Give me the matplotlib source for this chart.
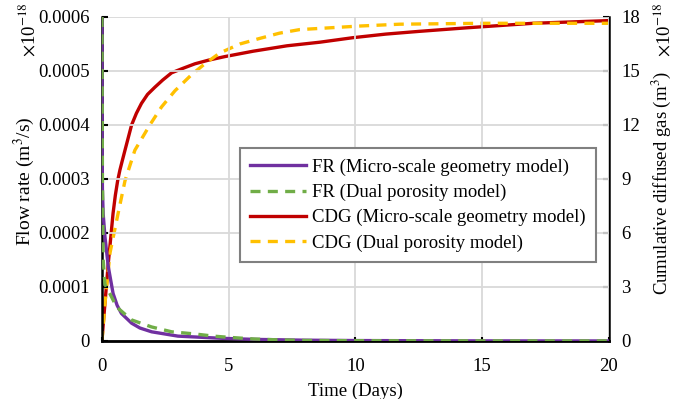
import matplotlib.pyplot as plt
import numpy as np

plt.rcParams['font.family'] = ['Liberation Serif', 'DejaVu Serif']
plt.rcParams['mathtext.fontset'] = 'stix'

# flow rate, micro-scale geometry model (m3/s)
t_fr_micro = [0, 0.005, 0.01, 0.02, 0.05, 0.12, 0.25, 0.44, 0.6, 0.77, 1.17, 1.5, 1.96,
              3.0, 4.7, 6, 8, 10, 15, 20]
fr_micro = [6.0e-4, 4.5e-4, 3.4e-4, 2.8e-4, 2.35e-4, 1.93e-4, 1.38e-4, 8.8e-5, 6.6e-5,
            5.1e-5, 3.3e-5, 2.4e-5, 1.7e-5, 9e-6, 5e-6, 3e-6, 1.5e-6, 8e-7, 2e-7, 1e-7]
# flow rate, dual porosity model
t_fr_dual = [0, 0.02, 0.05, 0.12, 0.31, 0.58, 1.17, 1.96, 2.75, 3.67, 4.4, 5.0, 6.0,
             6.75, 8, 10, 15, 20]
fr_dual = [6.0e-4, 3.0e-4, 1.5e-4, 1.05e-4, 8.8e-5, 6.3e-5, 3.9e-5, 2.6e-5, 1.7e-5,
           1.3e-5, 9e-6, 6.8e-6, 3.7e-6, 2.4e-6, 1e-6, 5e-7, 2e-7, 1e-7]
# cumulative diffused gas (x1e-18 m3)
t_cdg_micro = [0, 0.05, 0.12, 0.25, 0.44, 0.53, 0.62, 0.71, 0.8, 0.91, 1.04, 1.17, 1.36,
               1.56, 1.8, 2.09, 2.4, 2.75, 3.2, 3.67, 4.2, 4.85, 5.97, 7.3, 8.6, 9.9,
               11.2, 12.5, 14.4, 17.0, 20]
cdg_micro = [0, 0.9, 2.1, 4.3, 7.1, 8.1, 8.9, 9.5, 10.0, 10.6, 11.3, 12.0, 12.65,
             13.2, 13.7, 14.1, 14.5, 14.9, 15.15, 15.4, 15.6, 15.8, 16.1, 16.4, 16.6, 16.85,
             17.05, 17.2, 17.4, 17.65, 17.8]
t_cdg_dual = [0, 0.05, 0.12, 0.32, 0.64, 0.91, 1.3, 1.89, 2.35, 2.88, 3.54, 4.06, 4.65,
              5.44, 6.2, 7.0, 7.8, 9.0, 10.2, 11.75, 15, 20]
cdg_dual = [0, 0.8, 2.1, 4.9, 7.1, 8.9, 10.6, 12.0, 13.0, 13.9, 14.8, 15.4, 16.0,
            16.5, 16.8, 17.1, 17.3, 17.4, 17.5, 17.6, 17.65, 17.65]

fs = 13.5
fig = plt.figure(figsize=(6.75, 3.99), dpi=100)
ax = fig.add_axes([0.151, 0.1454, 0.751, 0.812])
ax2 = ax.twinx()

l1, = ax.plot(t_fr_micro, fr_micro, color='#7030A0', lw=2.4, zorder=3)
l2, = ax.plot(t_fr_dual, fr_dual, color='#70AD47', lw=2.4, ls=(0, (3, 2.2)), zorder=3)
l3, = ax2.plot(t_cdg_micro, cdg_micro, color='#C00000', lw=2.4)
l4, = ax2.plot(t_cdg_dual, cdg_dual, color='#FFC000', lw=2.4, ls=(0, (3, 2.2)))

ax.set_xlim(0, 20)
ax.set_ylim(0, 0.0006)
ax2.set_ylim(0, 18)
ax.set_xticks([0, 5, 10, 15, 20])
ax.set_yticks([0, 0.0001, 0.0002, 0.0003, 0.0004, 0.0005, 0.0006])
ax.set_yticklabels(['0', '0.0001', '0.0002', '0.0003', '0.0004', '0.0005', '0.0006'])
ax2.set_yticks([0, 3, 6, 9, 12, 15, 18])

ax.grid(True, color='#D9D9D9', lw=1.3)
ax.set_axisbelow(True)
for a in (ax, ax2):
    a.tick_params(labelsize=fs, direction='in', length=4, width=1.5, color='black', pad=9)
    for s in a.spines.values():
        s.set_visible(False)
ax.tick_params(axis='x', length=3, pad=12)
ax2.spines['right'].set_visible(True)
ax2.spines['right'].set_linewidth(1.8)
ax.spines['left'].set_visible(True)
ax.spines['left'].set_linewidth(1.8)
ax.spines['bottom'].set_visible(True)
ax.spines['bottom'].set_linewidth(2)

ax.set_xlabel('Time (Days)', fontsize=fs, labelpad=6)
ax.set_ylabel('Flow rate (m$^3$/s)', fontsize=14)
ax2.set_ylabel('Cumulative diffused gas (m$^3$)', fontsize=13.5)
ax.yaxis.set_label_coords(-0.128, 0.494)
ax2.yaxis.set_label_coords(1.08, 0.488)

fig.text(0.041, 0.925, r'$\times$10$^{-18}$', rotation=90, fontsize=fs, ha='center', va='center')
fig.text(0.982, 0.925, r'$\times$10$^{-18}$', rotation=90, fontsize=fs, ha='center', va='center')

leg = ax.legend([l1, l2, l3, l4],
                ['FR (Micro-scale geometry model)', 'FR (Dual porosity model)',
                 'CDG (Micro-scale geometry model)', 'CDG (Dual porosity model)'],
                loc='lower left', bbox_to_anchor=(0.272, 0.244), fontsize=fs,
                fancybox=False, framealpha=1, edgecolor='#808080',
                handlelength=3, borderpad=0.55, labelspacing=0.42, handletextpad=0.3,
                borderaxespad=0)
leg.get_frame().set_linewidth(1.5)
leg.set_zorder(10)
ax.set_zorder(ax2.get_zorder() + 1)
ax.patch.set_visible(False)

fig.savefig('out.png', dpi=100)
